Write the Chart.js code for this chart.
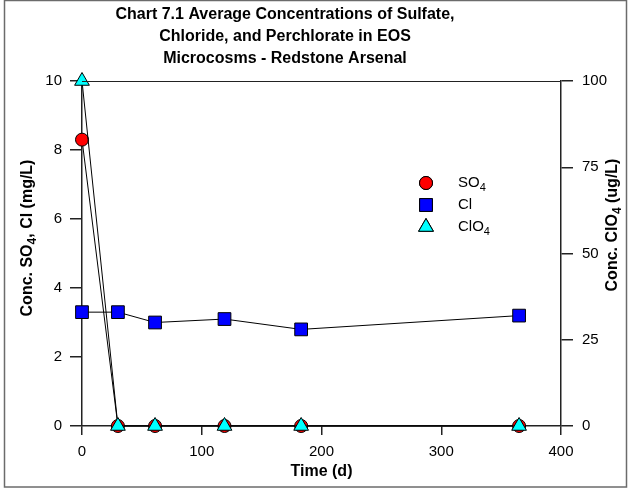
<!DOCTYPE html>
<html>
<head>
<meta charset="utf-8">
<script src="https://cdn.jsdelivr.net/npm/chart.js@4.4.1/dist/chart.umd.min.js"></script>
<style>
  body { margin: 0; background: #fff; }
  canvas { display: block; }
</style>
</head>
<body>
<canvas id="chart" width="631" height="489"></canvas>
<script>
// sampling days and averaged concentrations
const days = [0, 30, 61, 119, 183, 365];
const sulfate = [8.3, 0, 0, 0, 0, 0];             // mg/L
const chloride = [3.3, 3.3, 3.0, 3.1, 2.8, 3.2];  // mg/L
const perchlorate = [100, 0, 0, 0, 0, 0];         // ug/L

const xTicks = [0, 100, 200, 300, 400];
const leftTicks = [0, 2, 4, 6, 8, 10];
const rightTicks = [0, 25, 50, 75, 100];

const titleLines = [
  'Chart 7.1 Average Concentrations of Sulfate,',
  'Chloride, and Perchlorate in EOS',
  'Microcosms - Redstone Arsenal'
];

const FONT = '"Liberation Sans", Arial, Helvetica, sans-serif';

// text with a subscript piece, e.g. SO4
function richWidth(ctx, parts, size, weight) {
  let w = 0;
  parts.forEach(p => {
    ctx.font = `${weight} ${p.sub ? Math.round(size * 0.75) : size}px ${FONT}`;
    w += ctx.measureText(p.t).width;
  });
  return w;
}

function drawRich(ctx, parts, x, y, size, weight) {
  ctx.textBaseline = 'middle';
  ctx.textAlign = 'left';
  let cx = x;
  parts.forEach(p => {
    const s = p.sub ? Math.round(size * 0.75) : size;
    ctx.font = `${weight} ${s}px ${FONT}`;
    ctx.fillText(p.t, cx, p.sub ? y + size * 0.3 : y);
    cx += ctx.measureText(p.t).width;
  });
}

const leftTitle = [{ t: 'Conc. SO' }, { t: '4', sub: true }, { t: ', Cl (mg/L)' }];
const rightTitle = [{ t: 'Conc. ClO' }, { t: '4', sub: true }, { t: ' (ug/L)' }];
const legendItems = [
  { parts: [{ t: 'SO' }, { t: '4', sub: true }], style: 'circle', color: '#ff0000', r: 6.5 },
  { parts: [{ t: 'Cl' }], style: 'rect', color: '#0000ff', r: 9 },
  { parts: [{ t: 'ClO' }, { t: '4', sub: true }], style: 'triangle', color: '#00ffff', r: 8.5 }
];

const decorations = {
  id: 'decorations',
  beforeDraw(chart) {
    const ctx = chart.ctx;
    ctx.save();
    ctx.fillStyle = '#fff';
    ctx.fillRect(0, 0, chart.width, chart.height);
    ctx.restore();
  },
  afterDraw(chart) {
    const ctx = chart.ctx;
    const a = chart.chartArea;
    ctx.save();

    // outer frame
    ctx.strokeStyle = '#6b6b6b';
    ctx.lineWidth = 1.5;
    ctx.strokeRect(4.5, 0.5, chart.width - 9, chart.height - 2.5);

    // top edge of the plot box
    ctx.strokeStyle = '#222';
    ctx.lineWidth = 1;
    ctx.beginPath();
    ctx.moveTo(a.left, a.top + 0.5);
    ctx.lineTo(a.right, a.top + 0.5);
    ctx.stroke();

    ctx.fillStyle = '#000';
    // title
    ctx.font = `bold 16px ${FONT}`;
    ctx.textAlign = 'center';
    ctx.textBaseline = 'middle';
    titleLines.forEach((line, i) => ctx.fillText(line, 285, 15 + i * 22));

    // axis titles
    const lw = richWidth(ctx, leftTitle, 16, 'bold');
    ctx.save();
    ctx.translate(28, 238);
    ctx.rotate(-Math.PI / 2);
    drawRich(ctx, leftTitle, -lw / 2, 0, 16, 'bold');
    ctx.restore();

    const rw = richWidth(ctx, rightTitle, 16, 'bold');
    ctx.save();
    ctx.translate(613, 225);
    ctx.rotate(-Math.PI / 2);
    drawRich(ctx, rightTitle, -rw / 2, 0, 16, 'bold');
    ctx.restore();

    ctx.font = `bold 16px ${FONT}`;
    ctx.textAlign = 'center';
    ctx.textBaseline = 'middle';
    ctx.fillText('Time (d)', (a.left + a.right) / 2, 472);

    // legend
    legendItems.forEach((item, i) => {
      const y = 183 + i * 22;
      ctx.fillStyle = item.color;
      ctx.strokeStyle = '#000';
      ctx.lineWidth = 1;
      Chart.helpers.drawPoint(ctx, { pointStyle: item.style, radius: item.r, borderWidth: 1 }, 426, y);
      ctx.fill();
      ctx.stroke();
      ctx.fillStyle = '#000';
      drawRich(ctx, item.parts, 458, y, 15, 'normal');
    });

    ctx.restore();
  }
};

const fixedTicks = list => scale => { scale.ticks = list.map(v => ({ value: v })); };

const tickFont = { family: FONT, size: 15 };

new Chart(document.getElementById('chart'), {
  type: 'line',
  data: {
    datasets: [
      {
        label: 'SO4',
        data: days.map((d, i) => ({ x: d, y: sulfate[i] })),
        yAxisID: 'y',
        order: 3,
        borderColor: '#000',
        borderWidth: 1,
        backgroundColor: '#ff0000',
        pointBorderColor: '#000',
        pointBorderWidth: 1,
        pointStyle: 'circle',
        pointRadius: 6.5,
        tension: 0
      },
      {
        label: 'Cl',
        data: days.map((d, i) => ({ x: d, y: chloride[i] })),
        yAxisID: 'y',
        order: 2,
        borderColor: '#000',
        borderWidth: 1,
        backgroundColor: '#0000ff',
        pointBorderColor: '#000',
        pointBorderWidth: 1,
        pointStyle: 'rect',
        pointRadius: 9,
        tension: 0
      },
      {
        label: 'ClO4',
        data: days.map((d, i) => ({ x: d, y: perchlorate[i] })),
        yAxisID: 'y2',
        order: 1,
        borderColor: '#000',
        borderWidth: 1,
        backgroundColor: '#00ffff',
        pointBorderColor: '#000',
        pointBorderWidth: 1,
        pointStyle: 'triangle',
        pointRadius: 8.5,
        tension: 0
      }
    ]
  },
  options: {
    responsive: false,
    animation: false,
    clip: false,
    layout: { padding: { top: 81, left: 0, right: 0, bottom: 0 } },
    plugins: {
      legend: { display: false },
      tooltip: { enabled: false }
    },
    scales: {
      x: {
        type: 'linear',
        min: 0,
        max: 400,
        afterBuildTicks: fixedTicks(xTicks),
        afterFit: s => { s.height = 63; },
        border: { display: true, color: '#222', width: 1.5 },
        grid: { drawOnChartArea: false, drawTicks: true, tickLength: 9, color: '#222', lineWidth: 1.5 },
        ticks: { color: '#000', font: tickFont, padding: 8, maxRotation: 0 }
      },
      y: {
        type: 'linear',
        position: 'left',
        min: 0,
        max: 10,
        afterBuildTicks: fixedTicks(leftTicks),
        afterFit: s => { s.width = 82; },
        border: { display: true, color: '#222', width: 1.5 },
        grid: { drawOnChartArea: false, drawTicks: true, tickLength: 12, color: '#222', lineWidth: 1.5 },
        ticks: { color: '#000', font: tickFont, padding: 8 }
      },
      y2: {
        type: 'linear',
        position: 'right',
        min: 0,
        max: 100,
        afterBuildTicks: fixedTicks(rightTicks),
        afterFit: s => { s.width = 70; },
        border: { display: true, color: '#222', width: 1.5 },
        grid: { drawOnChartArea: false, drawTicks: true, tickLength: 12, color: '#222', lineWidth: 1.5 },
        ticks: { color: '#000', font: tickFont, padding: 9 }
      }
    }
  },
  plugins: [decorations]
});
</script>
</body>
</html>
